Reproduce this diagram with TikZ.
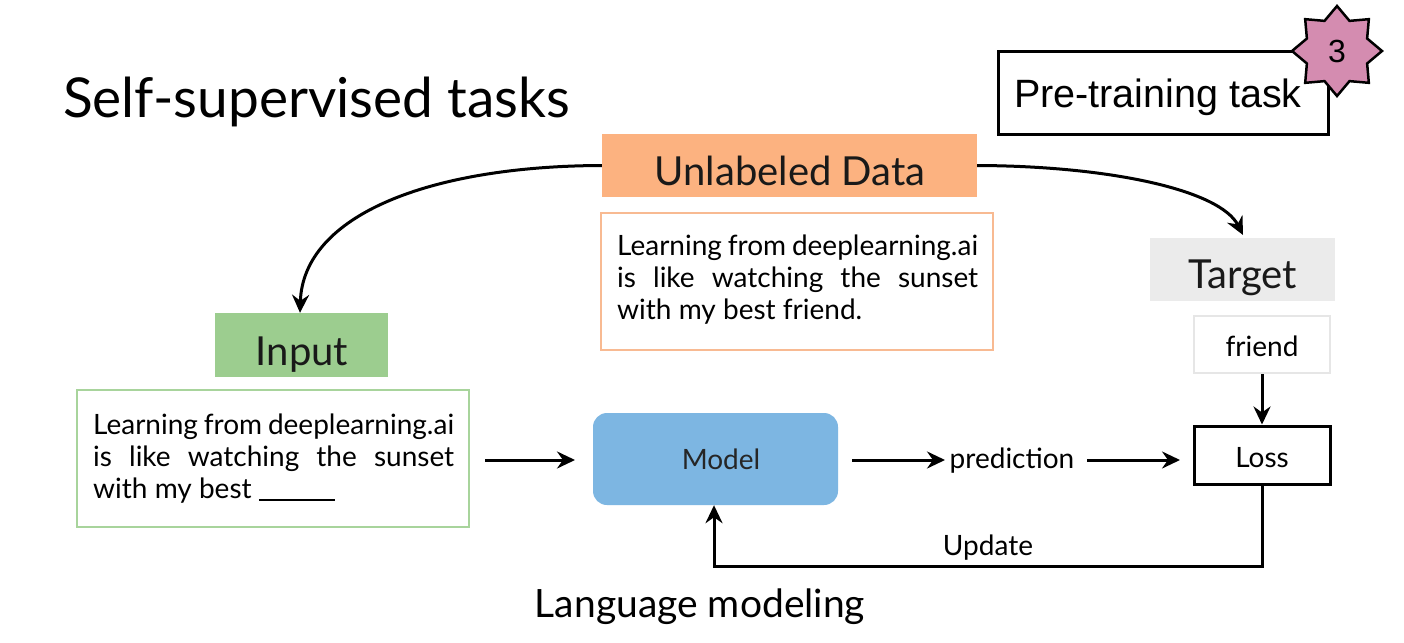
\documentclass[tikz,border=0pt]{standalone}
\usepackage{fontspec}
\setmainfont{Lato}
\newfontfamily\arialf{Liberation Sans}
\usetikzlibrary{arrows.meta,shapes.geometric}
\definecolor{orfill}{RGB}{252,178,128}
\definecolor{ordraw}{RGB}{248,186,146}
\definecolor{grfill}{RGB}{156,205,143}
\definecolor{grdraw}{RGB}{168,212,156}
\definecolor{blfill}{RGB}{125,182,226}
\definecolor{gyfill}{RGB}{235,235,235}
\definecolor{gydraw}{RGB}{230,230,230}
\definecolor{pkfill}{RGB}{212,140,176}
\tikzset{
  fs/.style={font=\fontsize{#1}{#1}\selectfont},
  hdr/.style={inner sep=0pt, fs=40, text=black!90},
  txtbox/.style={line width=2.5pt, inner sep=0pt},
  body/.style={text width=361pt, align=justify, font=\fontsize{28}{32}\selectfont, inner sep=0pt},
  arr/.style={line width=3pt, -{Stealth[length=18pt,width=17pt,inset=6pt]}},
  lbl/.style={fs=28, inner sep=0pt},
}
\begin{document}
\begin{tikzpicture}[x=1pt,y=-1pt]
\useasboundingbox[fill=white] (0,0) rectangle (1404,642);
% title
\node[anchor=base west, inner sep=0pt, fs=55] (title) at (63,117) {Self-supervised tasks};
% pre-training task
\draw[line width=3pt] (998,52) rectangle (1328,134);
\node[anchor=base, inner sep=0pt, font=\arialf\fontsize{39.5}{39.5}\selectfont] (ptt) at (1158,107) {Pre-training task};
\node[star, star points=8, star point ratio=1.38, minimum size=90pt, draw, line width=2.5pt, fill=pkfill, inner sep=0pt] (star) at (1337,51) {};
\node[font=\arialf\fontsize{32}{32}\selectfont, anchor=base] (three) at (1337,63) {3};
% unlabeled data
\node[fill=orfill, minimum width=375pt, minimum height=63pt, hdr] (unl) at (789.5,165.5) {};
\node[hdr, anchor=base] (unlt) at (790,185) {Unlabeled Data};
\draw[draw=ordraw, txtbox] (601,213) rectangle (993,350);
\node[body, anchor=north west] (unlbody) at (617,235) {Learning from deeplearning.ai is like watching the sunset with my best friend.};
% input
\node[fill=grfill, minimum width=173pt, minimum height=64pt, hdr] (inp) at (301.5,345) {};
\node[hdr, anchor=base] (inpt) at (302,365) {Input};
\draw[draw=grdraw, txtbox] (77,390) rectangle (469,527);
\coordinate (inpR) at (485,460);
\node[body, anchor=north west] (inpbody) at (93,414) {Learning from deeplearning.ai is like watching the sunset with my best \rule[-2pt]{76pt}{1.6pt}};
% target
\node[fill=gyfill, minimum width=185pt, minimum height=63pt, hdr] (tgt) at (1242.5,269.5) {};
\node[hdr, anchor=base] (tgtt) at (1242.5,288) {Target};
\node[draw=gydraw, line width=2pt, minimum width=136pt, minimum height=57pt, inner sep=0pt] (fr) at (1262,344.5) {};
\node[lbl, anchor=base] at (1262,356) {friend};
% loss
\node[draw, line width=3pt, minimum width=136pt, minimum height=58pt, inner sep=0pt] (loss) at (1262,455) {};
\node[lbl, anchor=base] at (1262,467) {Loss};
% model
\node[fill=blfill, rounded corners=14pt, minimum width=245pt, minimum height=92pt, inner sep=0pt] (model) at (715.5,459) {};
\node[lbl, anchor=base, text=black!85] at (721,469) {Model};
\node[lbl, anchor=base] (pred) at (1012,468) {prediction};
\coordinate (predL) at (945,460);
\coordinate (predR) at (1087,460);
% arrows
\draw[arr] (inpR) -- (575,460);
\draw[arr] (852,460) -- (predL);
\draw[arr] (predR) -- (1180,460);
\draw[arr] (fr.south) -- (loss.north);
\coordinate (c1) at (1262,566);
\coordinate (c2) at (714,566);
\draw[arr] (loss.south) -- (c1) -- (c2) -- (model.south -| c2);
\node[lbl, anchor=base] (upd) at (988,555) {Update};
\draw[arr] (unl.west) .. controls (430,166) and (303,215) .. (inp.north -| 300,0);
\draw[arr] (unl.east) .. controls (1110,166) and (1220,190) .. (1243,235);
\node[anchor=base, inner sep=0pt, fs=39] (lm) at (700,617) {Language modeling};
\end{tikzpicture}
\end{document}
